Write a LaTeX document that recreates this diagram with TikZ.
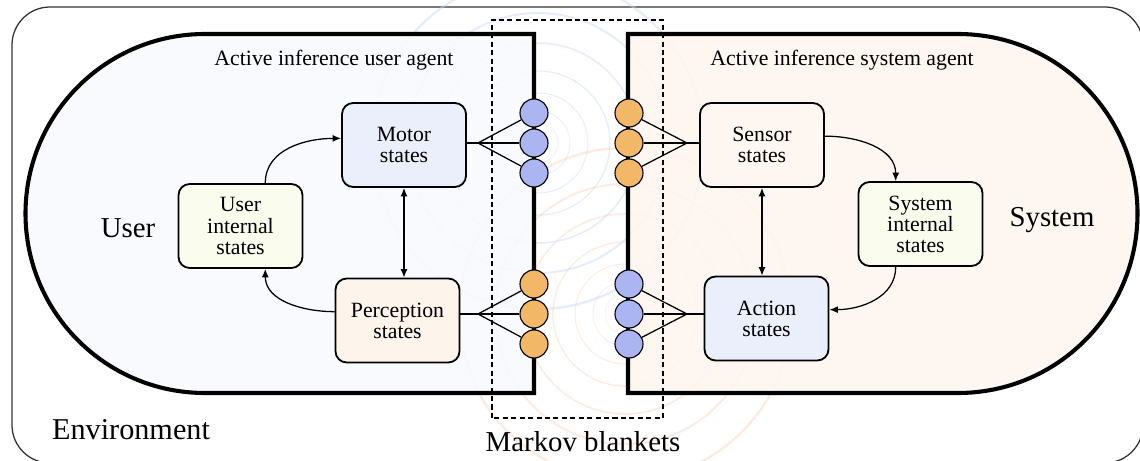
\documentclass[tikz,border=0pt]{standalone}
\usepackage{fontspec}
\setmainfont{Liberation Serif}
\usetikzlibrary{arrows.meta}

\definecolor{agentblue}{HTML}{F8FAFE}
\definecolor{agentorange}{HTML}{FEF6EF}
\definecolor{motorblue}{HTML}{EBEEFB}
\definecolor{innergreen}{HTML}{FAFDEE}
\definecolor{percorange}{HTML}{FDF4EC}
\definecolor{sensorange}{HTML}{FEF7F1}
\definecolor{dotblue}{HTML}{AAB5F2}
\definecolor{dotorange}{HTML}{F2B868}
\definecolor{waveblue}{HTML}{C4D6F6}
\definecolor{waveorange}{HTML}{F9D3B6}

\tikzset{
    statebox/.style={draw, line width=1.3pt, rounded corners=8pt, minimum width=3.1cm,
        minimum height=2.1cm, align=center, font=\fontsize{15.5}{15}\selectfont},
    blanket/.style={circle, draw, line width=0.8pt, minimum size=0.7cm, inner sep=0pt},
    agentline/.style={draw, line width=2.9pt},
    agenttitle/.style={font=\fontsize{15.5}{18}\selectfont},
    biglabel/.style={font=\fontsize{20.5}{24}\selectfont},
    wave/.style={draw opacity=0.45},
    flow/.style={line width=0.9pt, -{Latex[length=6pt,width=5pt]}},
    twoway/.style={line width=0.9pt, {Latex[length=6pt,width=5pt]}-{Latex[length=6pt,width=5pt]}},
    fan/.style={line width=0.9pt},
}

\begin{document}
\begin{tikzpicture}[x=0.025cm,y=0.025cm]
    \useasboundingbox (0,0) rectangle (1140,461);
    % environment
    \draw[line width=0.9pt, draw=black!80, rounded corners=0.95cm] (12,-2) rectangle (1143,454);
    % waves between the blankets
    \foreach \r/\w in {10/0.3,20/0.4,32/0.5,50/0.7,72/0.9,100/1.1,130/1.4,166/1.7}
    {
        \draw[wave, waveblue, line width=\w pt] (538,318) circle[radius=\r];
        \draw[wave, waveorange, line width=\w pt] (625,147) circle[radius=\r];
    }
    % agents
    \path[agentline, fill=agentblue, fill opacity=0.9] (534,427) -- (205,427)
        arc[start angle=90, end angle=270, radius=179.5] -- (534,68) -- cycle;
    \path[agentline, fill=agentorange, fill opacity=0.9] (628,427) -- (958,427)
        arc[start angle=90, end angle=-90, radius=179.5] -- (628,68) -- cycle;
    \node[agenttitle] (usertitle) at (334,401) {Active inference user agent};
    \node[agenttitle] (systitle) at (842,401) {Active inference system agent};
    \node[biglabel] (userlabel) at (128,233) {User};
    \node[biglabel] (syslabel) at (1052,241) {System};
    \node[biglabel, font=\fontsize{21.5}{24}\selectfont] (envlabel) at (131,31) {Environment};
    % state boxes
    \node[statebox, fill=motorblue] (motor) at (404,316) {Motor\\states};
    \node[statebox, fill=innergreen] (userint) at (240.5,235) {User\\internal\\states};
    \node[statebox, fill=percorange] (perc) at (397.5,140.5) {Perception\\states};
    \node[statebox, fill=sensorange] (sensor) at (762,316) {Sensor\\states};
    \node[statebox, fill=innergreen] (sysint) at (920.5,237) {System\\internal\\states};
    \node[statebox, fill=motorblue] (action) at (766.5,142.5) {Action\\states};
    % markov blankets
    \draw[line width=2pt, dash pattern=on 3.6pt off 2.4pt] (492,43) rectangle (663,441);
    \node[biglabel] (mblabel) at (583,19) {Markov blankets};
    \foreach \i/\y in {1/348,2/318,3/288}
    {
        \node[blanket, fill=dotblue] (ub\i) at (534,\y) {};
        \node[blanket, fill=dotorange] (so\i) at (629,\y) {};
    }
    \foreach \i/\y in {1/177,2/147,3/117}
    {
        \node[blanket, fill=dotorange] (uo\i) at (534,\y) {};
        \node[blanket, fill=dotblue] (sb\i) at (629,\y) {};
    }
    \coordinate (fanmotor) at (478,318);
    \coordinate (fanperc) at (478,147);
    \coordinate (fansensor) at (687,318);
    \coordinate (fanaction) at (687,147);
    \draw[fan, line width=1.3pt] (motor.east |- fanmotor) -- (fanmotor);
    \draw[fan, line width=1.3pt] (perc.east |- fanperc) -- (fanperc);
    \draw[fan, line width=1.3pt] (sensor.west |- fansensor) -- (fansensor);
    \draw[fan, line width=1.3pt] (action.west |- fanaction) -- (fanaction);
    \foreach \i in {1,2,3}
    {
        \draw[fan] (fanmotor) -- (ub\i);
        \draw[fan] (fanperc) -- (uo\i);
        \draw[fan] (fansensor) -- (so\i);
        \draw[fan] (fanaction) -- (sb\i);
    }
    % flows
    \draw[flow] (userint.60) to[out=90, in=180] (motor.174);
    \draw[flow] (perc.172) to[out=180, in=-90] (userint.-60);
    \draw[twoway] (motor.south) -- (motor.south |- perc.north);
    \draw[flow] (sensor.8) to[out=0, in=90] (sysint.120);
    \draw[flow] (sysint.-120) to[out=-90, in=0] (action.8);
    \draw[twoway] (sensor.south) -- (sensor.south |- action.north);
\end{tikzpicture}
\end{document}
